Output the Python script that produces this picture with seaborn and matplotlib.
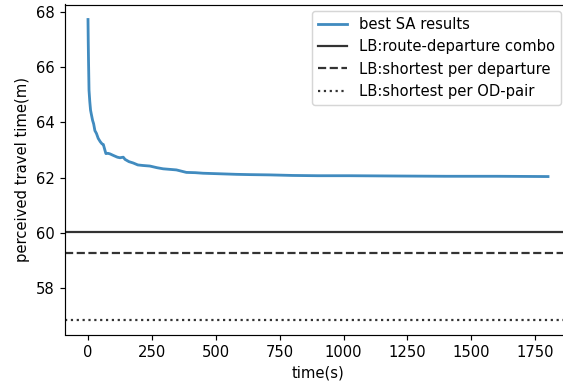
import matplotlib
matplotlib.use("Agg")
import matplotlib.pyplot as plt
import seaborn as sns
import pandas as pd

# best SA results (time in s, perceived travel time in min)
time_s = [0, 1, 2, 4, 7, 10, 14, 18, 22, 27, 33, 40, 48, 55, 60, 66, 70, 78, 86,
          100, 115, 125, 138, 145, 160, 177, 195, 215, 242, 270, 294, 320, 346,
          385, 420, 450, 516, 581, 633, 711, 800, 900, 1023, 1200, 1400, 1600, 1800]
sa_values = [67.72, 66.9, 66.25, 65.16, 64.75, 64.44, 64.25, 64.07, 63.95, 63.7, 63.6,
             63.42, 63.3, 63.22, 63.2, 63.0, 62.87, 62.88, 62.86,
             62.8, 62.74, 62.72, 62.74, 62.66, 62.58, 62.53, 62.46, 62.44, 62.42, 62.36, 62.32,
             62.3, 62.28, 62.19, 62.18, 62.16, 62.14, 62.12, 62.11, 62.1, 62.08, 62.07,
             62.07, 62.06, 62.05, 62.05, 62.04]

lb_route_departure = 60.05
lb_shortest_departure = 59.27
lb_shortest_od = 56.87

df = pd.DataFrame({"time": time_s, "value": sa_values})

DPI = 106
fig, ax = plt.subplots(figsize=(563 / DPI, 385 / DPI), dpi=DPI)
fig.subplots_adjust(left=65 / 563, right=571 / 563, top=1 - 4.5 / 385, bottom=1 - 334.5 / 385)

sns.lineplot(data=df, x="time", y="value", ax=ax, color="#1f77b4", alpha=0.85,
             linewidth=1.9, label="best SA results")
ax.axhline(lb_route_departure, color="k", alpha=0.8, linestyle="-", label="LB:route-departure combo")
ax.axhline(lb_shortest_departure, color="k", alpha=0.8, linestyle="--", label="LB:shortest per departure")
ax.axhline(lb_shortest_od, color="k", alpha=0.8, linestyle=":", label="LB:shortest per OD-pair")

ax.set_xlabel("time(s)")
ax.set_ylabel("perceived travel time(m)")
ax.set_xticks([0, 250, 500, 750, 1000, 1250, 1500, 1750])
ax.set_yticks([58, 60, 62, 64, 66, 68])
ax.legend(loc="upper right", bbox_to_anchor=(561 / 563, 1 - 11 / 385),
          bbox_transform=fig.transFigure, borderaxespad=0)

fig.savefig("out.png", dpi=DPI)
